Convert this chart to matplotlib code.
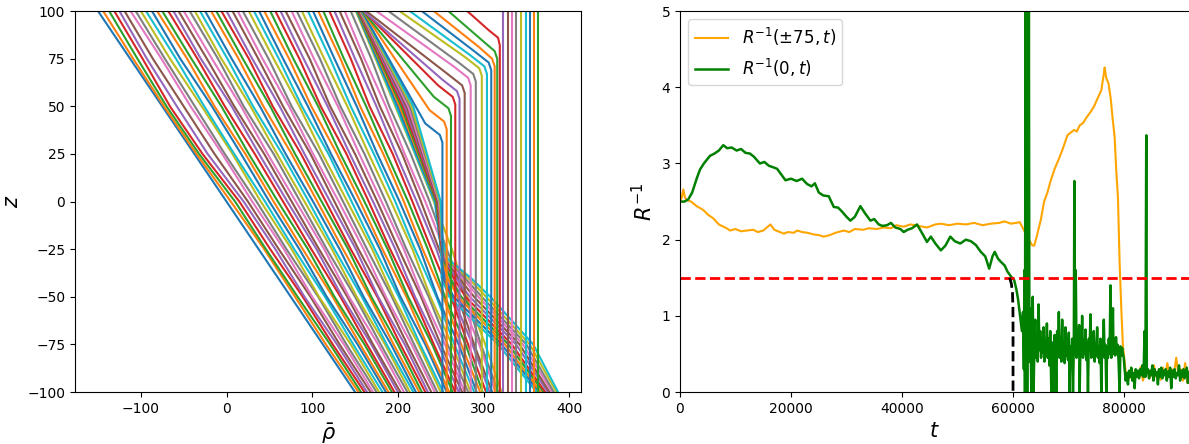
import matplotlib
matplotlib.use("Agg")
import matplotlib.pyplot as plt

# ---- left panel: rho-bar(z) profiles ----
# early profiles (diagonal family), rho at the z levels below
z_a = [100, 75, 50, 25, 0, -25, -50, -75, -100]
rho_a_top = [-150, -144, -137, -131, -125, -119, -112, -106, -100, -94,
             -87, -81, -75, -68, -62, -56, -50, -43, -37, -31,
             -25, -18, -12, -6, 0, 7, 13, 19, 26, 32,
             38, 44, 51, 57, 63, 69, 76, 82, 88, 95,
             101, 107, 113, 120, 126, 132, 138, 145, 151]
rho_a_z75 = [-112.5, -109, -104, -98, -93, -86, -76, -72, -66, -59,
             -54, -46, -41, -34, -30, -23, -17, -10, -6, 1,
             6, 14, 19, 26, 30, 37, 42, 49, 55, 61,
             66, 73, 78, 85, 90, 97, 102, 109, 114, 121,
             126, 133, 137, 145, 150, 157, 161, 169, 174]
rho_a_z50 = [-75, -73, -70, -66, -58, -50, -42, -37, -29, -26,
             -17, -14, -6, -2, 6, 9, 17, 20, 28, 31,
             39, 43, 51, 54, 62, 66, 73, 76, 85, 88,
             95, 99, 107, 110, 118, 121, 130, 133, 141, 145,
             152, 156, 163, 167, 175, 179, 186, 190, 197]
rho_a_z25 = [-37.5, -35, -32, -28, -22, -14, -5, -2, 7, 9,
             17, 22, 26, 33, 38, 44, 48, 55, 59, 65,
             69, 76, 80, 87, 91, 98, 101, 108, 112, 119,
             122, 129, 133, 140, 144, 150, 155, 161, 166, 172,
             176, 183, 187, 194, 198, 205, 208, 215, 220]
rho_a_z0 = [0, 5, 10, 15, 20, 25, 30, 35, 40, 45,
            50, 55, 60, 66, 71, 76, 81, 86, 91, 96,
            101, 106, 111, 116, 121, 126, 131, 136, 141, 146,
            151, 156, 161, 166, 171, 176, 181, 186, 192, 197,
            202, 207, 212, 217, 222, 227, 232, 237, 242]
rho_a_zm25 = [37.5, 44, 46, 51, 57, 61, 67, 70, 76, 79,
              85, 89, 95, 99, 105, 108, 114, 117, 123, 126,
              132, 136, 142, 145, 151, 154, 160, 164, 170, 173,
              179, 182, 188, 191, 197, 201, 207, 210, 217, 220,
              226, 229, 235, 239, 245, 248, 254, 257, 263]
rho_a_zm50 = [75, 80, 83, 89, 91, 98, 100, 107, 108, 115,
              117, 124, 126, 133, 135, 141, 143, 150, 152, 158,
              160, 167, 169, 176, 177, 184, 186, 193, 195, 201,
              203, 210, 212, 218, 220, 227, 229, 236, 238, 245,
              246, 253, 255, 262, 264, 270, 272, 279, 281]
rho_a_zm75 = [112.5, 116, 121, 124, 129, 132, 137, 140, 145, 148,
              153, 156, 161, 164, 169, 171, 177, 180, 185, 187,
              192, 195, 200, 203, 208, 211, 216, 219, 224, 226,
              232, 234, 240, 242, 247, 250, 255, 258, 263, 266,
              271, 274, 279, 282, 287, 289, 295, 297, 302]
rho_a_bot = [150, 154, 157, 161, 164, 168, 171, 175, 178, 182,
             186, 189, 193, 196, 200, 203, 207, 211, 214, 218,
             221, 225, 228, 232, 235, 239, 243, 246, 250, 253,
             257, 260, 264, 267, 271, 275, 278, 282, 285, 289,
             292, 296, 299, 303, 307, 310, 314, 317, 321]

# profiles that slide down the wall and fan out into the lower-right bundle
z_b = [100, 50, 0, -20, -30, -40, -50, -75, -100]
rho_b = [[152, 198, 243, 249, 251, 251, 260, 317, 362],
         [152, 200, 244, 249, 252, 254, 265, 321, 365],
         [153, 202, 245, 250, 252, 258, 270, 325, 367],
         [153, 204, 245, 250, 253, 261, 274, 329, 370],
         [154, 206, 246, 250, 254, 265, 279, 333, 372],
         [155, 208, 247, 251, 254, 268, 284, 338, 375],
         [155, 210, 247, 251, 255, 271, 289, 342, 377],
         [156, 212, 248, 251, 256, 275, 294, 346, 380],
         [157, 214, 249, 251, 257, 278, 298, 350, 382],
         [157, 216, 249, 252, 257, 282, 303, 354, 385],
         [158, 218, 250, 252, 258, 285, 308, 358, 387]]

# profiles that bend into a vertical wall
c_top = [158, 159, 159, 160, 160, 163, 175, 189, 202, 214, 228, 242, 259, 281]
c_k1_rho = [232, 237, 242, 247, 252, 258, 265, 271, 278, 284, 289, 295, 300, 306]
c_k1_z = [41, 48, 55, 61, 64, 67, 71, 73, 76, 77, 79, 81, 84, 90]
c_k2_rho = [249, 254, 259, 264, 269, 275, 282, 288, 295, 301, 306, 310, 313, 317]
c_k2_z = [35, 42, 49, 55, 58, 61, 65, 67, 70, 71, 73, 75, 79, 86]
c_wall_rho = [252, 257, 262, 267, 272, 278, 285, 291, 298, 304, 309, 313, 316, 319]
c_wall_z = [31, 38, 45, 51, 54, 57, 61, 63, 66, 67, 69, 71, 75, 82]

# last profiles: straight walls
d_rho = [323, 329, 333, 338, 344, 349, 354, 359, 363]

# ---- right panel: R^-1 time series ----
t_edge = [0, 300, 600, 900, 1200, 2000, 3000, 4200, 5000, 6000, 7000, 8400, 9000,
          10000, 11000, 12000, 13200, 14000, 15000, 16300, 17000, 18000, 18700,
          19500, 20500, 21100, 22000, 23000, 24000, 25000, 25900, 27000, 28000,
          29500, 30500, 31500, 33000, 34000, 35500, 36700, 38000, 39000, 40300,
          41500, 43000, 44500, 46000, 47000, 48500, 50000, 51500, 53000, 54500,
          56000, 57500, 58500, 59600, 60500, 61200, 62000, 62700, 63400, 63800,
          64300, 65000, 65600, 66200, 66800, 67500, 68200, 68900, 69800, 70300,
          71000, 71500, 72000, 72600, 73200, 74000, 74600, 75200, 75900, 76400,
          76500, 76800, 77200, 77600, 77900, 78300, 78600, 78900, 79200, 79500,
          79800, 80100, 80400, 80700, 81000, 81400, 81800, 82200, 82600, 83000,
          83400, 83800, 84200, 84600, 85000, 85400, 85800, 86200, 86600, 87000,
          87400, 87800, 88200, 88600, 89000, 89400, 89800, 90200, 90600, 91000,
          91400, 91800]
r_edge = [2.50, 2.55, 2.66, 2.55, 2.52, 2.50, 2.44, 2.39, 2.33, 2.28, 2.20, 2.15, 2.12,
          2.14, 2.11, 2.12, 2.13, 2.10, 2.12, 2.20, 2.13, 2.10, 2.08,
          2.10, 2.09, 2.12, 2.10, 2.09, 2.07, 2.06, 2.04, 2.06, 2.09,
          2.12, 2.10, 2.14, 2.13, 2.15, 2.14, 2.16, 2.15, 2.19, 2.17,
          2.20, 2.18, 2.16, 2.20, 2.21, 2.19, 2.21, 2.20, 2.22, 2.19,
          2.21, 2.22, 2.24, 2.21, 2.22, 2.23, 2.12, 2.02, 1.93, 1.92,
          2.05, 2.26, 2.50, 2.62, 2.78, 2.93, 3.05, 3.18, 3.37, 3.40,
          3.44, 3.42, 3.50, 3.53, 3.60, 3.68, 3.75, 3.85, 3.96, 4.20,
          4.26, 4.12, 4.05, 3.85, 3.62, 3.35, 2.90, 2.55, 1.70, 1.10,
          0.60, 0.40, 0.20, 0.25, 0.18, 0.30, 0.12, 0.28, 0.20, 0.33,
          0.15, 0.25, 0.30, 0.18, 0.27, 0.35, 0.20, 0.28, 0.16, 0.32,
          0.22, 0.38, 0.20, 0.30, 0.25, 0.45, 0.22, 0.30, 0.15, 0.38,
          0.12, 0.28]

t_mid = [0, 800, 1500, 2200, 3000, 3600, 4300, 5400, 6200, 7000,
         7800, 8500, 9300, 10200, 11000, 11800, 12600, 13300, 14400, 15200,
         16000, 16800, 17500, 18200, 19000, 20000, 21000, 22000, 22900, 23700,
         24300, 25000, 25800, 26800, 27700, 28500, 29300, 30000, 30700, 31500,
         32500, 33300, 34300, 35000, 35800, 36500, 37300, 38000, 38800, 39700,
         40300, 41000, 41800, 42700, 43500, 44500, 45200, 46000, 47000, 47800,
         48700, 49500, 50500, 51500, 52400, 53300, 54200, 55000, 55700, 56300,
         56700, 57300, 57800, 58500, 59000, 59600, 60200, 60600, 60900, 61300,
         61600, 61800, 61950, 62050, 62150, 62250, 62350, 62450, 62550, 62650,
         62750, 62850, 62950, 63050, 63200, 63300, 63400, 63550, 63700, 63850,
         64000, 64150, 64300, 64450, 64600, 64750, 64900, 65050, 65200, 65350,
         65500, 65650, 65800, 65950, 66100, 66250, 66400, 66550, 66700, 66900,
         67050, 67200, 67350, 67500, 67650, 67800, 67950, 68100, 68250, 68400,
         68550, 68700, 68850, 69000, 69150, 69300, 69450, 69600, 69750, 69900,
         70050, 70200, 70350, 70500, 70650, 70800, 70950, 71050, 71150, 71300,
         71450, 71600, 71750, 71900, 72000, 72150, 72300, 72450, 72600, 72750,
         72900, 73050, 73200, 73350, 73500, 73650, 73800, 73950, 74100, 74250,
         74400, 74550, 74700, 74850, 75000, 75150, 75300, 75450, 75600, 75750,
         75900, 76050, 76200, 76350, 76500, 76650, 76800, 76950, 77100, 77250,
         77400, 77550, 77700, 77850, 78000, 78100, 78250, 78400, 78550, 78700,
         78850, 79000, 79200, 79350, 79500, 79650, 79800, 79950, 80100, 80300,
         80500, 80700, 80900, 81100, 81300, 81500, 81700, 81900, 82100, 82300,
         82500, 82700, 82900, 83100, 83300, 83500, 83700, 83850, 84000, 84100,
         84300, 84500, 84700, 84900, 85100, 85300, 85500, 85700, 85900, 86100,
         86300, 86500, 86700, 86900, 87100, 87300, 87500, 87700, 87900, 88100,
         88300, 88500, 88700, 88900, 89100, 89300, 89500, 89700, 89900, 90100,
         90300, 90500, 90700, 90900, 91100, 91300, 91500, 91700]
r_mid = [2.50, 2.50, 2.53, 2.62, 2.80, 2.92, 3.00, 3.10, 3.13, 3.17,
         3.24, 3.20, 3.21, 3.17, 3.19, 3.14, 3.13, 3.09, 3.00, 3.02,
         2.97, 2.95, 2.93, 2.86, 2.78, 2.80, 2.77, 2.80, 2.73, 2.70,
         2.74, 2.62, 2.58, 2.57, 2.43, 2.42, 2.36, 2.30, 2.25, 2.30,
         2.44, 2.35, 2.25, 2.27, 2.20, 2.18, 2.19, 2.22, 2.16, 2.14,
         2.10, 2.13, 2.15, 2.20, 2.10, 1.97, 2.04, 1.95, 1.86, 1.92,
         2.04, 1.98, 1.95, 2.00, 1.98, 1.93, 1.84, 1.78, 1.62, 1.78,
         1.84, 1.75, 1.71, 1.66, 1.58, 1.52, 1.47, 1.35, 1.22, 0.98,
         0.80, 1.05, 0.30, 1.60, 0.00, 5.20, 0.20, 5.20, 0.00, 5.20,
         0.60, 5.20, 0.40, 1.10, 0.50, 0.00, 0.70, 1.25, 0.00, 0.60,
         0.95, 0.45, 0.75, 0.40, 1.15, 0.55, 0.80, 0.45, 0.70, 0.52,
         0.85, 0.40, 0.65, 0.55, 0.90, 0.45, 0.70, 0.35, 0.80, 0.00,
         0.65, 0.50, 0.00, 0.75, 0.45, 0.00, 0.80, 0.55, 1.05, 0.45,
         0.70, 0.40, 0.95, 0.50, 0.62, 0.38, 0.85, 0.48, 0.70, 0.42,
         0.78, 0.00, 0.60, 0.45, 0.70, 0.00, 0.60, 2.77, 0.50, 1.60,
         0.45, 0.72, 0.50, 0.88, 0.00, 0.62, 0.48, 1.00, 0.45, 0.68,
         0.50, 0.82, 0.42, 0.65, 0.00, 0.70, 0.55, 1.02, 0.45, 0.68,
         0.52, 0.80, 0.40, 0.62, 0.48, 0.85, 0.45, 0.60, 0.38, 0.70,
         0.00, 0.65, 0.50, 0.95, 0.45, 0.62, 0.00, 0.58, 0.45, 0.70,
         0.50, 1.40, 0.45, 0.75, 1.10, 0.50, 0.65, 0.48, 0.72, 0.50,
         0.62, 0.42, 0.00, 0.60, 0.48, 0.58, 0.50, 0.45, 0.30, 0.15,
         0.25, 0.10, 0.28, 0.20, 0.32, 0.15, 0.25, 0.05, 0.30, 0.20,
         0.28, 0.18, 0.30, 0.22, 0.35, 0.20, 0.80, 0.20, 3.37, 0.25,
         0.30, 0.18, 0.28, 0.22, 0.35, 0.15, 0.30, 0.22, 0.26, 0.10,
         0.30, 0.20, 0.32, 0.18, 0.28, 0.22, 0.30, 0.15, 0.27, 0.20,
         0.32, 0.05, 0.28, 0.20, 0.30, 0.18, 0.25, 0.22, 0.35, 0.15,
         0.28, 0.20, 0.30, 0.18, 0.25, 0.32, 0.12, 0.26]

# fitted collapse near t ~ 60000
t_fit = [59400, 59700, 59900, 59980, 60000, 60000]
r_fit = [1.50, 1.42, 1.30, 1.10, 0.80, 0.0]
r_crit = 1.5


fig = plt.figure(figsize=(11.89, 4.44), dpi=100)
ax1 = fig.add_axes([0.0631, 0.117, 0.4256, 0.858])
ax2 = fig.add_axes([0.5719, 0.117, 0.4281, 0.858])

lw = 1.5
for k in range(len(rho_a_top)):
    rho = [rho_a_top[k], rho_a_z75[k], rho_a_z50[k], rho_a_z25[k], rho_a_z0[k],
           rho_a_zm25[k], rho_a_zm50[k], rho_a_zm75[k], rho_a_bot[k]]
    ax1.plot(rho, z_a, lw=lw)
for row in rho_b:
    ax1.plot(row, z_b, lw=lw)
for i in range(len(c_top)):
    ax1.plot([c_top[i], c_k1_rho[i], c_k2_rho[i], c_wall_rho[i], c_wall_rho[i]],
             [100, c_k1_z[i], c_k2_z[i], c_wall_z[i], -100], lw=lw)
for r in d_rho:
    ax1.plot([r, r], [100, -100], lw=lw)

ax1.set_ylim(-100, 100)
ax1.set_yticks([-100, -75, -50, -25, 0, 25, 50, 75, 100])
ax1.set_xticks([-100, 0, 100, 200, 300, 400])
ax1.set_xlabel(r"$\bar{\rho}$", fontsize=15)
ax1.set_ylabel(r"$z$", fontsize=15)
ax1.tick_params(labelsize=10)

ax2.plot(t_edge, r_edge, color="orange", lw=1.5, label=r"$R^{-1}(\pm 75, t)$")
ax2.plot(t_mid, r_mid, color="green", lw=1.8, label=r"$R^{-1}(0, t)$")
ax2.axhline(r_crit, color="red", ls="--", lw=2)
ax2.plot(t_fit, r_fit, color="black", ls="--", lw=2)
ax2.set_xlim(0, 91700)
ax2.set_ylim(0, 5)
ax2.set_xticks([0, 20000, 40000, 60000, 80000])
ax2.set_xlabel(r"$t$", fontsize=15)
ax2.set_ylabel(r"$R^{-1}$", fontsize=15)
ax2.tick_params(labelsize=10)
ax2.spines["right"].set_visible(False)
ax2.legend(loc="upper left", fontsize=12)

fig.savefig("out.png", dpi=100)
